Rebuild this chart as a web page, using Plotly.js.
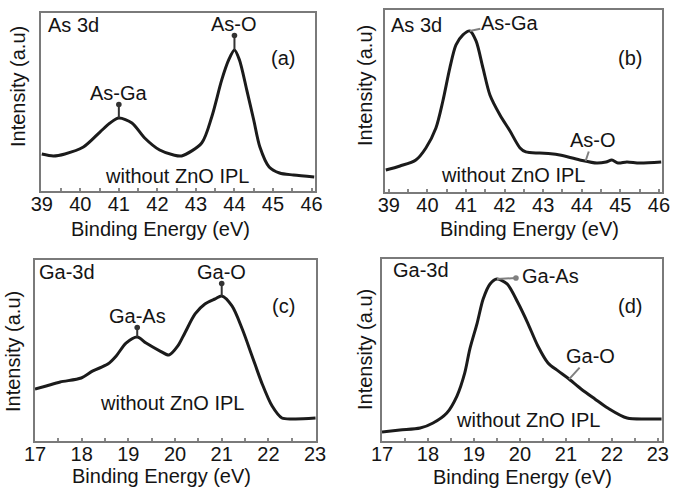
<!DOCTYPE html>
<html>
<head>
<meta charset="utf-8">
<script src="https://cdn.plot.ly/plotly-3.0.1.min.js"></script>
<style>
  html, body { margin: 0; padding: 0; background: #fff; }
  #chart { width: 677px; height: 497px; }
</style>
</head>
<body>
<div id="chart"></div>
<script>
// ---------------- DATA ----------------
// (a) As 3d, without ZnO IPL
const energyA = [39.0, 39.3, 39.6, 40.08, 40.51, 40.77, 41.0, 41.34, 41.67, 42.06, 42.42, 42.63, 43.15, 43.41, 43.67, 43.85, 44.0, 44.13, 44.32, 44.5, 44.66, 44.9, 45.17, 45.53, 46.07];
const intensityA = [20.8, 19.7, 20.8, 24.7, 33.1, 38.2, 41.0, 38.2, 29.8, 23.0, 20.2, 19.7, 27.0, 41.6, 62.4, 73.6, 79.2, 73.6, 56.7, 39.9, 24.7, 13.5, 10.1, 9.0, 7.9];
// (b) As 3d
const energyB = [38.92, 39.29, 39.7, 39.96, 40.22, 40.4, 40.58, 40.74, 40.92, 41.1, 41.26, 41.44, 41.62, 41.88, 42.14, 42.4, 42.55, 42.91, 43.2, 43.43, 43.95, 44.39, 44.63, 44.78, 44.94, 45.17, 45.5, 46.06];
const intensityB = [12.1, 14.3, 17.6, 24.2, 35.2, 50.0, 68.1, 80.8, 86.3, 88.5, 83.0, 68.1, 53.3, 42.3, 33.5, 24.2, 22.0, 21.4, 21.0, 20.3, 17.6, 15.9, 16.5, 17.6, 15.9, 16.5, 15.9, 16.5];
// (c) Ga-3d
const energyC = [17.0, 17.24, 17.54, 17.99, 18.24, 18.56, 18.74, 18.95, 19.19, 19.38, 19.68, 19.87, 20.06, 20.21, 20.43, 20.64, 20.86, 21.0, 21.22, 21.44, 21.65, 21.86, 22.08, 22.29, 22.57, 23.01];
const intensityC = [28.7, 30.4, 32.6, 34.8, 38.7, 42.5, 47.0, 54.1, 57.5, 54.1, 49.7, 47.5, 52.5, 59.7, 70.2, 75.7, 78.5, 80.1, 74.6, 61.9, 47.0, 32.0, 19.3, 12.7, 12.2, 12.7];
// (d) Ga-3d
const energyD = [17.0, 17.39, 17.83, 18.11, 18.41, 18.63, 18.8, 18.91, 19.07, 19.2, 19.35, 19.5, 19.72, 19.96, 20.17, 20.39, 20.61, 20.83, 21.04, 21.33, 21.63, 21.91, 22.33, 22.85, 23.08];
const intensityD = [4.9, 6.0, 7.1, 9.9, 15.4, 24.7, 37.4, 50.5, 64.8, 78.0, 86.3, 89.0, 86.3, 75.8, 64.8, 52.2, 42.9, 38.5, 34.6, 28.6, 23.1, 18.1, 12.6, 12.1, 12.1];

// peak labels
const peakLabelsA = ['As-Ga', 'As-O'];
const peakEnergiesA = [41.0, 44.0];
const peakLabelsB = ['As-Ga', 'As-O'];
const peakEnergiesB = [41.1, 44.1];
const peakLabelsC = ['Ga-As', 'Ga-O'];
const peakEnergiesC = [19.19, 21.0];
const peakLabelsD = ['Ga-As', 'Ga-O'];
const peakEnergiesD = [19.5, 21.07];

const coreLevels = ['As 3d', 'As 3d', 'Ga-3d', 'Ga-3d'];
const panelTags = ['(a)', '(b)', '(c)', '(d)'];
const sampleNote = 'without ZnO IPL';
const xTitle = 'Binding Energy (eV)';
const yTitle = 'Intensity (a.u)';
const tickValsAs = [39, 40, 41, 42, 43, 44, 45, 46];
const tickValsGa = [17, 18, 19, 20, 21, 22, 23];

// ---------------- LAYOUT HELPERS ----------------
const W = 677, H = 497;
const FONT = '"Liberation Sans", Arial, Helvetica, sans-serif';
const FS = 20;
const px = x => x / W;
const py = y => 1 - y / H;

// panel boxes in pixels [left, top, right, bottom]
const boxes = [[41, 13, 315, 191], [385, 10, 662, 192], [35, 260, 316, 441], [382, 259, 662, 441]];
const ranges = [[38.98, 46.09], [38.9, 46.08], [17.0, 23.02], [17.0, 23.09]];

function interp(xs, ys, x) {
  for (let i = 0; i < xs.length - 1; i++) {
    if (x >= xs[i] && x <= xs[i + 1]) {
      const t = (x - xs[i]) / (xs[i + 1] - xs[i]);
      return ys[i] + t * (ys[i + 1] - ys[i]);
    }
  }
  return ys[ys.length - 1];
}

const series = [[energyA, intensityA], [energyB, intensityB], [energyC, intensityC], [energyD, intensityD]];
const traces = series.map((s, i) => ({
  type: 'scatter', mode: 'lines',
  x: s[0], y: s[1],
  xaxis: i === 0 ? 'x' : 'x' + (i + 1),
  yaxis: i === 0 ? 'y' : 'y' + (i + 1),
  line: { color: '#1b1b1b', width: 3, shape: 'spline', smoothing: 0.8 },
  hoverinfo: 'x+y', showlegend: false
}));

const layout = {
  width: W, height: H,
  margin: { l: 0, r: 0, t: 0, b: 0 },
  paper_bgcolor: '#fff', plot_bgcolor: '#fff',
  font: { family: FONT, size: FS, color: '#141414' },
  showlegend: false,
  annotations: [],
};

boxes.forEach((b, i) => {
  const sx = i === 0 ? '' : String(i + 1);
  layout['xaxis' + sx] = {
    domain: [px(b[0]), px(b[2])],
    range: ranges[i],
    anchor: 'y' + sx,
    tickvals: i < 2 ? tickValsAs : tickValsGa,
    ticks: 'inside', ticklen: 3, tickwidth: 2, tickcolor: '#888',
    ticklabelstandoff: -6,
    minor: { dtick: 0.5, tick0: 0, ticks: 'inside', ticklen: 3, tickwidth: 2, tickcolor: '#888' },
    showline: true, linecolor: '#7a7a7a', linewidth: 2, mirror: true,
    showgrid: false, zeroline: false,
    tickfont: { family: FONT, size: FS, color: '#141414' },
    fixedrange: true
  };
  layout['yaxis' + sx] = {
    domain: [py(b[3]), py(b[1])],
    range: [0, 100],
    anchor: 'x' + sx,
    showticklabels: false, ticks: '',
    showline: true, linecolor: '#7a7a7a', linewidth: 2, mirror: true,
    showgrid: false, zeroline: false, fixedrange: true
  };
});

function txt(text, x, y, opts) {
  return Object.assign({
    text: text, xref: 'paper', yref: 'paper', x: px(x), y: py(y),
    xanchor: 'center', yanchor: 'middle', showarrow: false,
    font: { family: FONT, size: FS, color: '#141414' }
  }, opts || {});
}

// per panel text positions (pixel centers)
const coreLevelPos = [[46, 25], [389, 25], [37, 272], [391, 270]];
const tagPos = [[283, 58], [630, 58], [283, 306], [630, 306]];
const notePos = [[177, 176], [513, 175], [172, 403], [528, 420]];
const xTitlePos = [[160, 229], [529, 229], [161, 476], [522, 477]];
const yTitlePos = [[18, 87], [365, 86], [13, 352], [365, 350]];

for (let i = 0; i < 4; i++) {
  layout.annotations.push(txt(coreLevels[i], coreLevelPos[i][0], coreLevelPos[i][1], { xanchor: 'left' }));
  layout.annotations.push(txt(panelTags[i], tagPos[i][0], tagPos[i][1]));
  layout.annotations.push(txt(sampleNote, notePos[i][0], notePos[i][1]));
  layout.annotations.push(txt(xTitle, xTitlePos[i][0], xTitlePos[i][1]));
  layout.annotations.push(txt(yTitle, yTitlePos[i][0], yTitlePos[i][1], { textangle: -90 }));
}

// peak leaders: [panel, labels, energies, offsets(px), dot flags, color]
const peakSets = [
  [0, peakLabelsA, peakEnergiesA, [[0, -25], [0, -26]], [true, true], '#333'],
  [1, peakLabelsB, peakEnergiesB, [[40, -8], [7, -21]], [false, false], '#808080'],
  [2, peakLabelsC, peakEnergiesC, [[0, -21], [0, -24]], [true, true], '#333'],
  [3, peakLabelsD, peakEnergiesD, [[54, -3], [21, -23]], [true, false], '#808080'],
];
peakSets.forEach(ps => {
  const i = ps[0];
  const sx = i === 0 ? '' : String(i + 1);
  ps[1].forEach((lab, k) => {
    const e = ps[2][k];
    const yv = interp(series[i][0], series[i][1], e);
    const a = {
      text: lab, xref: 'x' + sx, yref: 'y' + sx, x: e, y: yv,
      ax: ps[3][k][0], ay: ps[3][k][1],
      showarrow: true, arrowcolor: ps[5], arrowwidth: 2,
      arrowhead: 0, standoff: 0, borderpad: 0,
      font: { family: FONT, size: FS, color: '#141414' }
    };
    if (ps[4][k]) {
      a.arrowside = 'start';
      a.startarrowhead = 6;
      a.startarrowsize = 0.7;
      a.startstandoff = i === 3 ? 6 : 0;
    }
    layout.annotations.push(a);
  });
});

Plotly.newPlot('chart', traces, layout, { displayModeBar: false, staticPlot: true });
</script>
</body>
</html>
